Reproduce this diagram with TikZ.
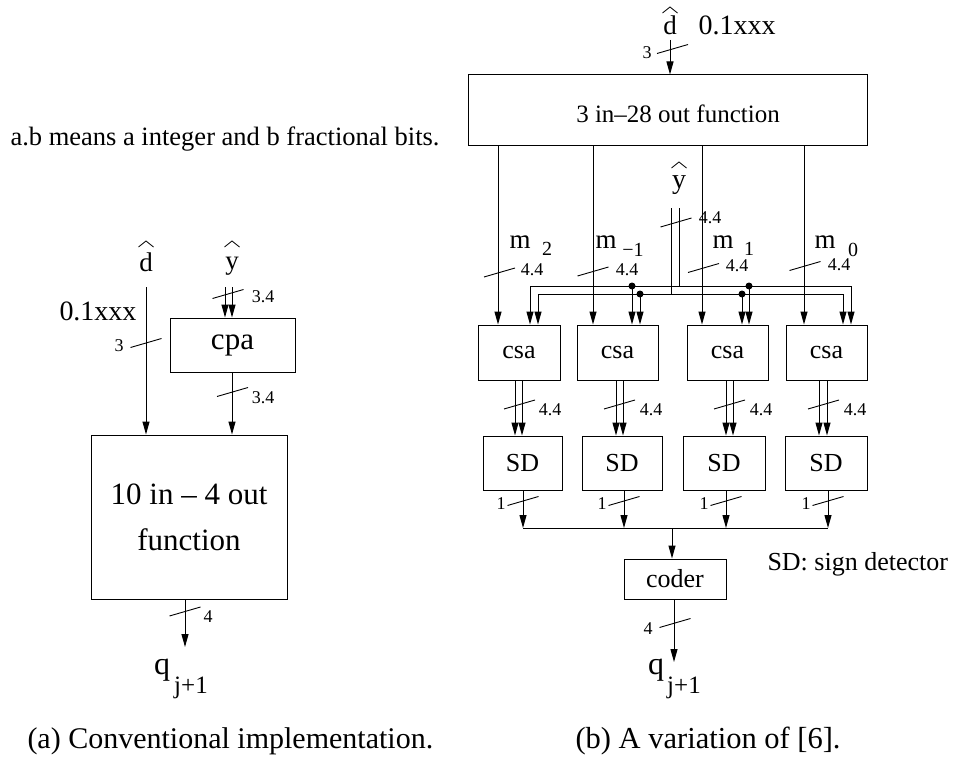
\documentclass[tikz,border=0pt]{standalone}
\usepackage{fontspec}
\setmainfont{Liberation Serif}
\usetikzlibrary{arrows.meta}
\newcommand\fsz[1]{\fontsize{#1}{#1}\selectfont}
\begin{document}
\begin{tikzpicture}[x=1pt,y=-1pt,line width=1pt,
  arr/.style={-{Triangle[length=13pt,width=7pt]}},
  box/.style={draw,inner sep=0pt},
  txt/.style={inner sep=0pt},
  lbl/.style={inner sep=0pt,font=\fsz{18}},
  bitslash/.pic={\draw[line width=0.9pt] (-15.5,4.5) -- (15.5,-4.5);},
  hatmark/.pic={\draw[line width=0.8pt] (-7.5,0) -- (0,-6) -- (7.5,0);}]
\useasboundingbox (0,0) rectangle (954,760);

% ---------- note ----------
\node[txt,font=\fsz{26.5},anchor=base west] (note) at (10,145) {a.b means a integer and b fractional bits.};

% ================= (a) =================
\node[txt,font=\fsz{27},anchor=base] (dA) at (146,271) {d};
\pic at ([yshift=24pt]dA.base) {hatmark};
\node[txt,font=\fsz{28},anchor=base] (xA) at (98,320) {0.1xxx};
\node[txt,font=\fsz{27},anchor=base] (yA) at (232,269) {y};
\pic at ([yshift=22pt]yA.base) {hatmark};

\node[box,minimum width=125pt,minimum height=54pt,font=\fsz{31}] (cpa) at (232.5,345) {cpa};
\node[box,minimum width=196pt,minimum height=164pt,font=\fontsize{31}{46}\selectfont,align=center] (fnA) at (189,517) {10 in -- 4 out\\function};

\coordinate (dAin) at (146,287);
\draw[arr] (dAin) -- (dAin |- fnA.north);
\pic at (146,343) {bitslash};
\node[lbl] (l3a) at (119,346) {3};

\coordinate (yA1) at (225,287);
\coordinate (yA2) at (232,287);
\draw[arr] (yA1) -- (yA1 |- cpa.north);
\draw[arr] (yA2) -- (yA2 |- cpa.north);
\pic at (228,294) {bitslash};
\node[lbl] (l34a) at (263,297) {3.4};

\draw[arr] (cpa.south -| yA2) -- (yA2 |- fnA.north);
\pic at (232.5,392) {bitslash};
\node[lbl] (l34b) at (263,398) {3.4};

\coordinate (qAt) at (185,647);
\draw[arr] (fnA.south -| qAt) -- (qAt);
\pic at (185,611.5) {bitslash};
\node[lbl] (l4a) at (208,617) {4};
\node[txt,font=\fsz{32},anchor=base] (qA) at (162,674) {q};
\node[txt,font=\fsz{25},anchor=base] (qAs) at (191,693) {j+1};

\node[txt,font=\fsz{30},anchor=base west] (capA) at (27,748) {(a) Conventional implementation.};

% ================= (b) =================
\node[txt,font=\fsz{27},anchor=base] (dB) at (670,35) {d};
\pic at ([yshift=22pt]dB.base) {hatmark};
\node[txt,font=\fsz{28},anchor=base west] (xB) at (698,35) {0.1xxx};
\coordinate (dBin) at (670,40);
\node[box,minimum width=399pt,minimum height=70pt] (fn28) at (667.5,110) {};
\node[txt,font=\fsz{25}] (fn28t) at (678,114) {3 in--28 out function};
\draw[arr] (dBin) -- (dBin |- fn28.north);
\pic at (672.5,49) {bitslash};
\node[lbl] (l3b) at (647,53) {3};

% csa boxes
\node[box,minimum width=82pt,minimum height=55pt,font=\fsz{26}] (csa1) at (519,352.5) {csa};
\node[box,minimum width=81pt,minimum height=55pt,font=\fsz{26}] (csa2) at (617.5,352.5) {csa};
\node[box,minimum width=81pt,minimum height=55pt,font=\fsz{26}] (csa3) at (727.5,352.5) {csa};
\node[box,minimum width=81pt,minimum height=55pt,font=\fsz{26}] (csa4) at (826.5,352.5) {csa};

% m lines
\coordinate (mx1) at (498,145);
\coordinate (mx2) at (593,145);
\coordinate (mx3) at (702,145);
\coordinate (mx4) at (804,145);
\draw[arr] (mx1) -- (mx1 |- csa1.north);
\draw[arr] (mx2) -- (mx2 |- csa2.north);
\draw[arr] (mx3) -- (mx3 |- csa3.north);
\draw[arr] (mx4) -- (mx4 |- csa4.north);

\node[txt,font=\fsz{27},anchor=base] (m1) at (520,248) {m};
\node[txt,font=\fsz{20},anchor=base] (m1s) at (547,255) {2};
\node[txt,font=\fsz{27},anchor=base] (m2) at (606,248) {m};
\node[txt,font=\fsz{20},anchor=base] (m2s) at (633,256) {−1};
\node[txt,font=\fsz{27},anchor=base] (m3) at (723,248) {m};
\node[txt,font=\fsz{20},anchor=base] (m3s) at (749,255) {1};
\node[txt,font=\fsz{27},anchor=base] (m4) at (825,248) {m};
\node[txt,font=\fsz{20},anchor=base] (m4s) at (853,256) {0};

\pic at (499.5,272.5) {bitslash};
\node[lbl] (lm1) at (532,270) {4.4};
\pic at (593,271.5) {bitslash};
\node[lbl] (lm2) at (627,270) {4.4};
\pic at (703.5,268) {bitslash};
\node[lbl] (lm3) at (737,266) {4.4};
\pic at (805,266) {bitslash};
\node[lbl] (lm4) at (839,265) {4.4};

% y-hat bus
\node[txt,font=\fsz{28},anchor=base] (yB) at (679,188) {y};
\pic at ([yshift=20pt]yB.base) {hatmark};
\coordinate (yB1) at (671,208);
\coordinate (yB2) at (679,208);
\coordinate (ob) at (679,286);
\coordinate (ib) at (671,294);
\pic at (676,222.5) {bitslash};
\node[lbl] (lyb) at (710,218) {4.4};
\coordinate (oL) at (530,286);
\coordinate (oR) at (851,286);
\coordinate (iL) at (538,294);
\coordinate (iR) at (843,294);
\draw (yB2) -- (ob);
\draw (yB1) -- (ib);
\draw[arr] (ob) -- (oL) -- (oL |- csa1.north);
\draw[arr] (ob) -- (oR) -- (oR |- csa4.north);
\draw[arr] (ib) -- (iL) -- (iL |- csa1.north);
\draw[arr] (ib) -- (iR) -- (iR |- csa4.north);
\coordinate (o2) at (632,286);
\coordinate (i2) at (640,294);
\coordinate (i3) at (742,294);
\coordinate (o3) at (749,286);
\fill (o2) circle[radius=3.5pt];
\fill (i2) circle[radius=3.5pt];
\fill (i3) circle[radius=3.5pt];
\fill (o3) circle[radius=3.5pt];
\draw[arr] (o2) -- (o2 |- csa2.north);
\draw[arr] (i2) -- (i2 |- csa2.north);
\draw[arr] (i3) -- (i3 |- csa3.north);
\draw[arr] (o3) -- (o3 |- csa3.north);

% SD boxes
\node[box,minimum width=79pt,minimum height=54pt,font=\fsz{26}] (sd1) at (522.5,463) {SD};
\node[box,minimum width=80pt,minimum height=54pt,font=\fsz{26}] (sd2) at (622,463) {SD};
\node[box,minimum width=82pt,minimum height=54pt,font=\fsz{26}] (sd3) at (724,463) {SD};
\node[box,minimum width=82pt,minimum height=54pt,font=\fsz{26}] (sd4) at (826,463) {SD};

% csa -> SD
\coordinate (p1a) at (515,380); \coordinate (p1b) at (522,380);
\coordinate (p2a) at (616,380); \coordinate (p2b) at (623,380);
\coordinate (p3a) at (726,380); \coordinate (p3b) at (733,380);
\coordinate (p4a) at (819,380); \coordinate (p4b) at (827,380);
\draw[arr] (csa1.south -| p1a) -- (p1a |- sd1.north);
\draw[arr] (csa1.south -| p1b) -- (p1b |- sd1.north);
\draw[arr] (csa2.south -| p2a) -- (p2a |- sd2.north);
\draw[arr] (csa2.south -| p2b) -- (p2b |- sd2.north);
\draw[arr] (csa3.south -| p3a) -- (p3a |- sd3.north);
\draw[arr] (csa3.south -| p3b) -- (p3b |- sd3.north);
\draw[arr] (csa4.south -| p4a) -- (p4a |- sd4.north);
\draw[arr] (csa4.south -| p4b) -- (p4b |- sd4.north);
\pic at (519.5,404.5) {bitslash}; \node[lbl] (lc1) at (550,410) {4.4};
\pic at (619.5,404.5) {bitslash}; \node[lbl] (lc2) at (651,410) {4.4};
\pic at (729.5,404.5) {bitslash}; \node[lbl] (lc3) at (761,410) {4.4};
\pic at (823.5,404.5) {bitslash}; \node[lbl] (lc4) at (855,410) {4.4};

% SD -> bus
\coordinate (s1) at (523,528);
\coordinate (s2) at (624,528);
\coordinate (s3) at (726,528);
\coordinate (s4) at (828,528);
\draw[arr] (sd1.south -| s1) -- (s1);
\draw[arr] (sd2.south -| s2) -- (s2);
\draw[arr] (sd3.south -| s3) -- (s3);
\draw[arr] (sd4.south -| s4) -- (s4);
\pic at (523,501) {bitslash}; \node[lbl] (ls1) at (501,504) {1};
\pic at (624,501) {bitslash}; \node[lbl] (ls2) at (602,504) {1};
\pic at (726,501) {bitslash}; \node[lbl] (ls3) at (704,504) {1};
\pic at (828,501) {bitslash}; \node[lbl] (ls4) at (806,504) {1};
\draw (s1) -- (s4);

\node[box,minimum width=102pt,minimum height=40pt,font=\fsz{26}] (coder) at (675,579) {coder};
\coordinate (bm) at (672,528);
\draw[arr] (bm) -- (bm |- coder.north);

\coordinate (qBt) at (674,662);
\draw[arr] (coder.south -| qBt) -- (qBt);
\pic at (675,623) {bitslash};
\node[lbl] (l4b) at (648,629) {4};
\node[txt,font=\fsz{32},anchor=base] (qB) at (656,674) {q};
\node[txt,font=\fsz{25},anchor=base] (qBs) at (684,693) {j+1};

\node[txt,font=\fsz{26},anchor=base west] (sdnote) at (767,570) {SD: sign detector};

\node[txt,font=\fsz{30.5},anchor=base west] (capB) at (575,748) {(b) A variation of [6].};
\end{tikzpicture}
\end{document}
